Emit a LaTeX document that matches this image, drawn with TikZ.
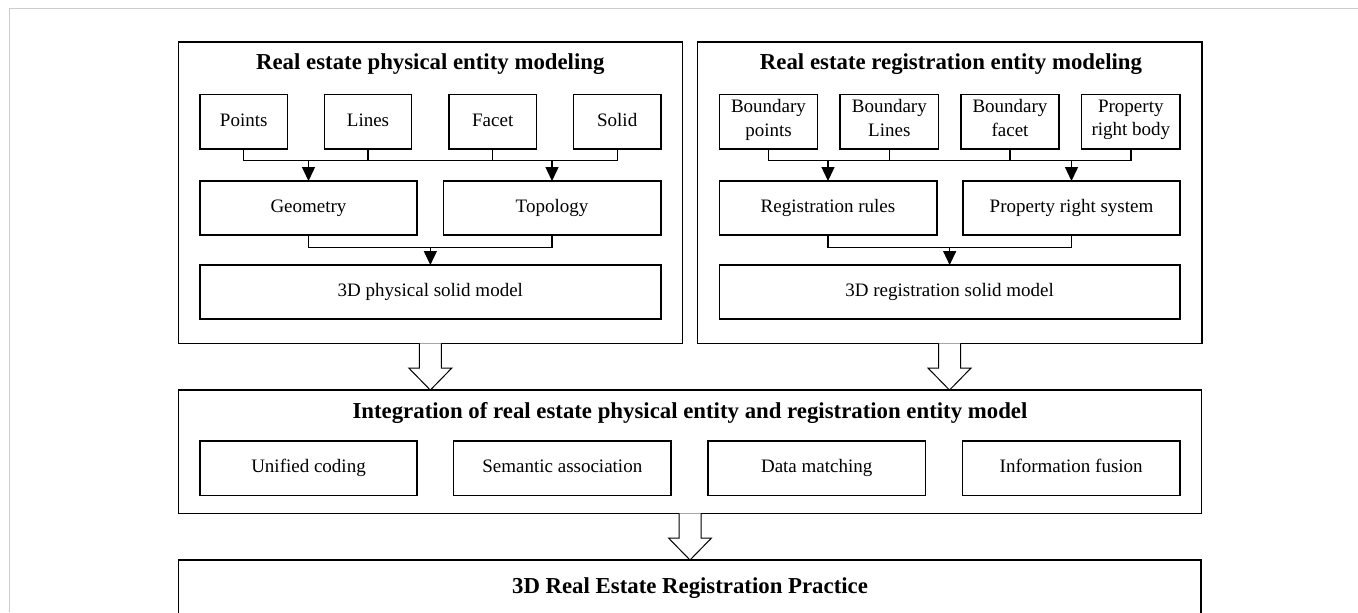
\documentclass[tikz,border=0pt]{standalone}
\usepackage{fontspec}
\setmainfont{Liberation Serif}
\usetikzlibrary{arrows.meta,calc,positioning}

\begin{document}
\begin{tikzpicture}[x=0.5pt, y=-0.5pt,
    box/.style={draw, line width=0.8pt, inner sep=0pt, outer sep=0pt, align=center,
                font=\fontsize{9.5}{11.7}\selectfont,
                execute at begin node=\strut, execute at end node=\strut},
    panel/.style={draw, line width=0.8pt, inner sep=0pt, outer sep=0pt},
    ttl/.style={font=\fontsize{11.4}{13}\selectfont\bfseries, inner sep=0pt,
                execute at begin node=\strut},
    link/.style={line width=0.7pt},
    head/.style={line width=0.7pt, -{Triangle[length=7pt,width=6.5pt]}},
    fat/.style={line width=0.5pt, fill=white}]
  \newcommand{\fatarrow}[2]{% from node, to node
    \coordinate (tip) at (#1.south |- #2.north);
    \draw[fat] ($(#1.south)+(-11,0)$) -- ($(tip)+(-11,-22)$) -- ($(tip)+(-21.5,-22)$) -- (tip)
      -- ($(tip)+(21.5,-22)$) -- ($(tip)+(11,-22)$) -- ($(#1.south)+(11,0)$);}
  \useasboundingbox (0,0) rectangle (1358,612);
  % page frame
  \draw[gray!40, line width=0.65pt] (9.5,612) -- (9.5,8.5) -- (1358,8.5);
  % ================================================================== physical entity
  \node[panel, minimum width=252pt, minimum height=150.8pt] (physpanel) at (430.3,192.5) {};
  \node[ttl] (physttl) at (430.3,64) {Real estate physical entity modeling};
  \node[box, minimum width=43.65pt, minimum height=27.2pt] (pts) at (243.7,121.5) {Points};
  \node[box, minimum width=43.65pt, minimum height=27.2pt] (lns) at (368,121.5) {Lines};
  \node[box, minimum width=43.65pt, minimum height=27.2pt] (fct) at (492.7,121.5) {Facet};
  \node[box, minimum width=43.65pt, minimum height=27.2pt] (sld) at (617.2,121.5) {Solid};
  \node[box, minimum width=108.5pt, minimum height=27pt] (geo) at (308.5,208) {Geometry};
  \node[box, minimum width=108.7pt, minimum height=27pt] (topo) at (552,208) {Topology};
  \node[box, minimum width=230.35pt, minimum height=26.85pt] (phys) at (430.35,291.85) {3D physical solid model};
  \coordinate (lbus) at ($(pts.south)+(0,12)$);
  \draw[link] (pts.south) -- (lbus) -- (lbus -| sld.south) -- (sld.south);
  \draw[link] (lns.south) -- (lns.south |- lbus);
  \draw[link] (fct.south) -- (fct.south |- lbus);
  \draw[head] (geo.north |- lbus) -- (geo.north);
  \draw[head] (topo.north |- lbus) -- (topo.north);
  \coordinate (lmid) at ($(geo.south)+(0,12.3)$);
  \draw[link] (geo.south) -- (lmid) -| (topo.south);
  \draw[head] (phys.north |- lmid) -- (phys.north);
  % ================================================================== registration entity
  \node[panel, minimum width=252.2pt, minimum height=150.8pt] (regpanel) at (949.5,192.5) {};
  \node[ttl] (regttl) at (951,64) {Real estate registration entity modeling};
  \node[box, minimum width=49.15pt, minimum height=27.2pt] (bpts) at (768.5,121.5) {Boundary\\points};
  \node[box, minimum width=49.15pt, minimum height=27.2pt] (blns) at (889.3,121.5) {Boundary\\Lines};
  \node[box, minimum width=49.15pt, minimum height=27.2pt] (bfct) at (1010,121.5) {Boundary\\facet};
  \node[box, minimum width=49.15pt, minimum height=27.2pt] (prb) at (1130.8,121.5) {Property\\right body};
  \node[box, minimum width=108.7pt, minimum height=27pt] (rules) at (828,208) {Registration rules};
  \node[box, minimum width=108.5pt, minimum height=27pt] (prs) at (1071.5,208) {Property right system};
  \node[box, minimum width=230.35pt, minimum height=26.85pt] (regm) at (949.65,291.85) {3D registration solid model};
  \coordinate (rbus) at ($(bpts.south)+(0,12)$);
  \draw[link] (bpts.south) -- (rbus) -- (rbus -| prb.south) -- (prb.south);
  \draw[link] (blns.south) -- (blns.south |- rbus);
  \draw[link] (bfct.south) -- (bfct.south |- rbus);
  \draw[head] (rules.north |- rbus) -- (rules.north);
  \draw[head] (prs.north |- rbus) -- (prs.north);
  \coordinate (rmid) at ($(rules.south)+(0,12.3)$);
  \draw[link] (rules.south) -- (rmid) -| (prs.south);
  \draw[head] (regm.north |- rmid) -- (regm.north);
  % ================================================================== integration
  \node[panel, minimum width=511.5pt, minimum height=61.65pt] (integ) at (690,451.7) {};
  \node[ttl] (integttl) at (690,413) {Integration of real estate physical entity and registration entity model};
  \node[box, minimum width=108.75pt, minimum height=27.3pt] (coding) at (308.5,468) {Unified coding};
  \node[box, minimum width=108.75pt, minimum height=27.3pt] (semantic) at (562.3,468) {Semantic association};
  \node[box, minimum width=108.75pt, minimum height=27.3pt] (matching) at (816.7,468) {Data matching};
  \node[box, minimum width=108.75pt, minimum height=27.3pt] (fusion) at (1071.2,468) {Information fusion};
  % ================================================================== practice
  \node[panel, minimum width=511.25pt, minimum height=60pt] (practice) at (689.75,620) {};
  \node[ttl] (practicettl) at (690,588) {3D Real Estate Registration Practice};
  \fatarrow{physpanel}{integ}
  \fatarrow{regpanel}{integ}
  \fatarrow{integ}{practice}
\end{tikzpicture}
\end{document}
